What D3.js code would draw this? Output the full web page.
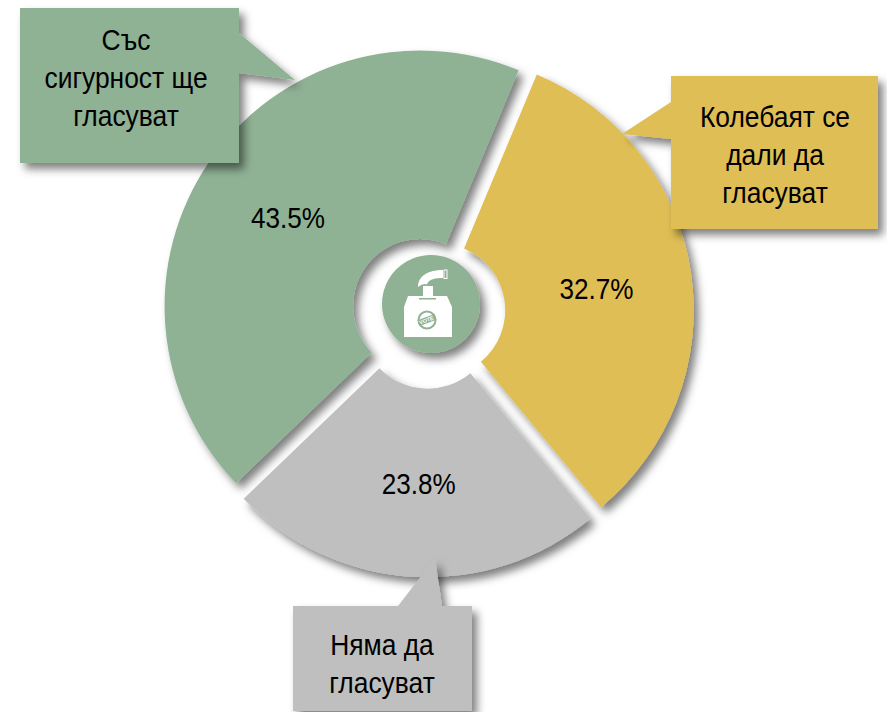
<!DOCTYPE html>
<html><head><meta charset="utf-8">
<script src="https://cdn.jsdelivr.net/npm/d3@7"></script>
<style>html,body{margin:0;padding:0;background:#fff}svg{display:block}text{font-family:"Liberation Sans",Arial,sans-serif;fill:#000}</style>
</head><body>
<svg id="c" width="887" height="712"></svg>
<script>
const categories = ["Със сигурност ще гласуват", "Колебаят се дали да гласуват", "Няма да гласуват"];
const values = [43.5, 32.7, 23.8];
const valueLabels = ["43.5%", "32.7%", "23.8%"];
const colors = ["#8FB194", "#DFBE55", "#BFBFBF"];
const calloutLines = [["Със", "сигурност ще", "гласуват"], ["Колебаят се", "дали да", "гласуват"], ["Няма да", "гласуват"]];

const cx = 428.3, cy = 311.7, R = 255.5, r0 = 67, explode = 10, labelR = 160;
const svg = d3.select("#c");
const defs = svg.append("defs");
const f = defs.append("filter").attr("id", "sh").attr("x", "-20%").attr("y", "-20%").attr("width", "140%").attr("height", "140%");
f.append("feDropShadow").attr("dx", 5).attr("dy", 6).attr("stdDeviation", 4).attr("flood-color", "#000").attr("flood-opacity", 0.5);

const start = -133.9 * Math.PI / 180;
const pie = d3.pie().sort(null).value(d => d).startAngle(start).endAngle(start + 2 * Math.PI);
const arcs = pie(values);
const arc = d3.arc().innerRadius(r0).outerRadius(R);
const labelArc = d3.arc().innerRadius(labelR).outerRadius(labelR);
const offset = d => { const m = (d.startAngle + d.endAngle) / 2; return [explode * Math.sin(m), -explode * Math.cos(m)]; };

const g = svg.append("g").attr("transform", `translate(${cx},${cy})`);
g.selectAll("path").data(arcs).join("path")
  .attr("transform", d => `translate(${offset(d)})`)
  .attr("d", arc).attr("fill", (d, i) => colors[i]).attr("filter", "url(#sh)");

// callouts
const line = d3.line();
const calloutShapes = [
  {pts: [[20, 8], [239, 8], [239, 33], [295, 80], [239, 73], [239, 163], [20, 163]], x: 126, ys: [49.5, 88, 126]},
  {pts: [[671, 76], [878, 76], [878, 229], [671, 229], [671, 139], [622, 134], [671, 102]], x: 775, ys: [127, 165, 203]},
  {pts: [[293, 606], [398, 606], [435, 558], [442, 606], [472, 606], [472, 711], [293, 711]], x: 382, ys: [655, 693]}
];
calloutShapes.forEach((c, i) => {
  svg.append("path").attr("d", line(c.pts) + "Z").attr("fill", colors[i]).attr("filter", "url(#sh)");
  calloutLines[i].forEach((s, j) => {
    svg.append("text").attr("transform", `translate(${c.x},${c.ys[j]}) scale(0.88,1)`)
      .attr("text-anchor", "middle").attr("font-size", 30).text(s);
  });
});

g.selectAll("text.v").data(arcs).join("text").attr("class", "v")
  .attr("transform", d => { const p = labelArc.centroid(d), o = offset(d); return `translate(${p[0] + o[0]},${p[1] + o[1] + 12.5}) scale(0.87,1)`; })
  .attr("text-anchor", "middle").attr("font-size", 30).text((d, i) => valueLabels[i]);

// centre icon
const icon = svg.append("g");
icon.append("circle").attr("cx", 431).attr("cy", 304).attr("r", 49).attr("fill", colors[0]).attr("filter", "url(#sh)");
icon.append("path").attr("fill", "#fff").attr("d", "M408,296H423V286H433V296H447L452,307V337H404V307Z");
icon.append("rect").attr("x", 419).attr("y", 298).attr("width", 17).attr("height", 1.5).attr("fill", colors[0]);
icon.append("path").attr("fill", "#fff").attr("d", "M418,287C418,276 428,270 443,270V278C436,278 428,279 427,284.5Q423,283 418,287Z");
icon.append("rect").attr("x", 444).attr("y", 270).attr("width", 3).attr("height", 8.5).attr("fill", "none").attr("stroke", "#fff");
icon.append("circle").attr("cx", 427).attr("cy", 320).attr("r", 8.5).attr("fill", "none").attr("stroke", colors[0]).attr("stroke-width", 2);
icon.append("rect").attr("x", 418).attr("y", 317).attr("width", 18).attr("height", 6).attr("transform", "rotate(-20 427 320)").attr("fill", colors[0]);
icon.append("text").attr("transform", "translate(427,322) rotate(-20)").attr("text-anchor", "middle").attr("font-size", 5.5).attr("font-weight", "bold").style("fill", "#fff").text("VOTE");
</script>
</body></html>
